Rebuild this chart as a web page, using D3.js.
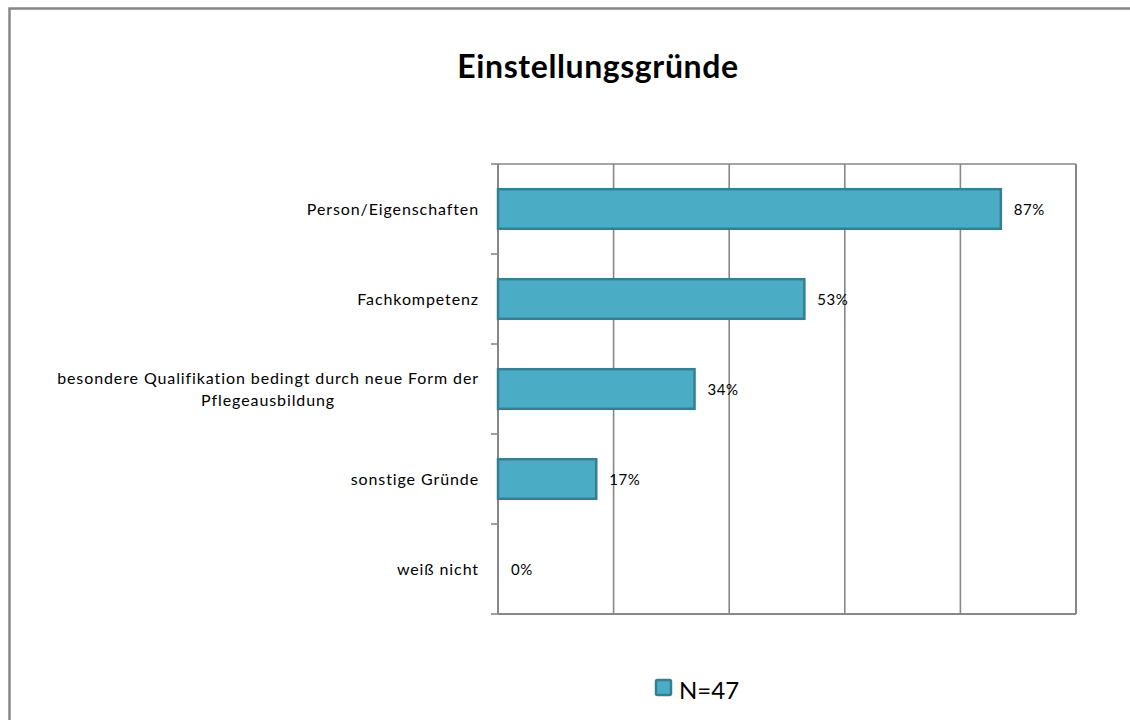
<!DOCTYPE html>
<html><head><meta charset="utf-8">
<script src="https://cdn.jsdelivr.net/npm/d3@7/dist/d3.min.js"></script>
<style>body{margin:0;background:#fff;} svg{display:block;font-family:Lato,"Open Sans",sans-serif;}</style>
</head><body>
<svg id="c" width="1130" height="720"></svg>
<script>
const title = "Einstellungsgründe";
const categories = [
  ["Person/Eigenschaften"],
  ["Fachkompetenz"],
  ["besondere Qualifikation bedingt durch neue Form der", "Pflegeausbildung"],
  ["sonstige Gründe"],
  ["weiß nicht"]
];
const values = [87, 53, 34, 17, 0];
const valueLabels = ["87%", "53%", "34%", "17%", "0%"];
const xTicks = [0, 20, 40, 60, 80, 100];
const seriesName = "N=47";

const svg = d3.select("#c");
const fill = "#4BACC6", stroke = "#357F92", grid = "#878787";

// outer frame
svg.append("rect").attr("x", 9.5).attr("y", 8.5).attr("width", 1140).attr("height", 730)
  .attr("fill", "none").attr("stroke", "#878787").attr("stroke-width", 2.5);

svg.append("text").attr("x", 598).attr("y", 78).attr("text-anchor", "middle")
  .attr("font-size", 32).attr("font-weight", "bold").attr("letter-spacing", 0.6).attr("fill", "#000").text(title);

const L = 498, R = 1076, T = 164, B = 614;
const x = d3.scaleLinear().domain([0, 100]).range([L, R]);
const y = d3.scaleBand().domain(d3.range(categories.length)).range([T, B]).paddingInner(0.56).paddingOuter(0.28);

// gridlines
svg.append("g").selectAll("line").data(xTicks.slice(1)).join("line")
  .attr("x1", d => x(d)).attr("x2", d => x(d)).attr("y1", T).attr("y2", B)
  .attr("stroke", grid).attr("stroke-width", 1.6);
svg.append("line").attr("x1", L).attr("x2", R).attr("y1", T).attr("y2", T).attr("stroke", grid).attr("stroke-width", 1.6);
svg.append("line").attr("x1", L).attr("x2", R).attr("y1", B).attr("y2", B).attr("stroke", grid).attr("stroke-width", 2);
svg.append("line").attr("x1", R).attr("x2", R).attr("y1", T).attr("y2", B).attr("stroke", grid).attr("stroke-width", 2);

// left axis line with boundary ticks
const step = (B - T) / categories.length;
svg.append("line").attr("x1", L).attr("x2", L).attr("y1", T).attr("y2", B).attr("stroke", grid).attr("stroke-width", 2);
svg.append("g").selectAll("line").data(d3.range(categories.length + 1)).join("line")
  .attr("x1", L - 7).attr("x2", L).attr("y1", i => T + i * step).attr("y2", i => T + i * step)
  .attr("stroke", grid).attr("stroke-width", 1.6);

// bars
svg.append("g").selectAll("rect").data(values).join("rect")
  .attr("x", x(0)).attr("y", (d, i) => y(i))
  .attr("width", d => x(d) - x(0)).attr("height", y.bandwidth())
  .attr("fill", fill).attr("stroke", stroke).attr("stroke-width", d => d > 0 ? 2.5 : 0);

// value labels
svg.append("g").selectAll("text").data(values).join("text")
  .attr("x", d => x(d) + 13).attr("y", (d, i) => y(i) + y.bandwidth() / 2 + 5.5)
  .attr("font-size", 15).attr("letter-spacing", 0.5).attr("fill", "#000").text((d, i) => valueLabels[i]);

// category labels
const cg = svg.append("g");
categories.forEach((lines, i) => {
  const cy = y(i) + y.bandwidth() / 2;
  const lh = 22;
  const t = cg.append("text").attr("font-size", 16).attr("letter-spacing", 0.9).attr("fill", "#000").attr("text-anchor", "middle");
  lines.forEach((ln, j) => {
    t.append("tspan").attr("x", 0).attr("y", cy + 6 + (j - (lines.length - 1) / 2) * lh).text(ln);
  });
  let maxW = 0;
  t.selectAll("tspan").each(function(){ maxW = Math.max(maxW, this.getComputedTextLength()); });
  t.selectAll("tspan").attr("x", 479 - maxW / 2);
});

// legend
svg.append("rect").attr("x", 656).attr("y", 680).attr("width", 15).attr("height", 15).attr("rx", 1.5)
  .attr("fill", fill).attr("stroke", stroke).attr("stroke-width", 2.5);
svg.append("text").attr("x", 679).attr("y", 699).attr("font-size", 24).attr("fill", "#000").text(seriesName);
</script>
</body></html>
